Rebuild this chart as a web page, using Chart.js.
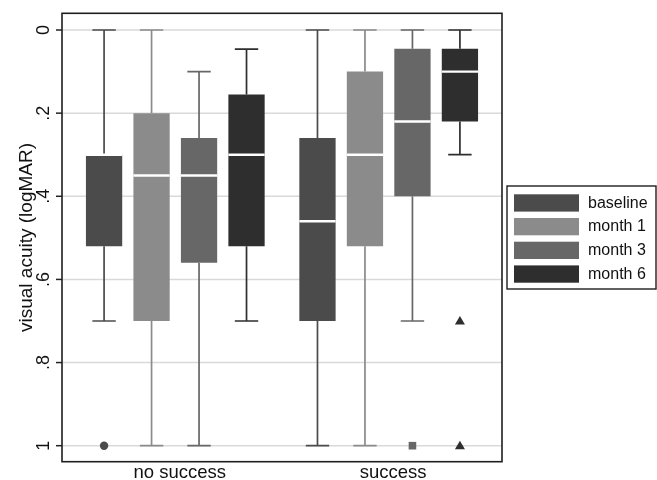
<!DOCTYPE html>
<html><head><meta charset="utf-8">
<script src="https://cdn.jsdelivr.net/npm/chart.js@4/dist/chart.umd.min.js"></script>
<style>html,body{margin:0;padding:0;background:#fff;}</style>
</head><body>
<canvas id="c" width="657" height="480" style="display:block;width:657px;height:480px"></canvas>
<script>
// ---- data ----
const categories = ['no success', 'success'];
const seriesNames = ['baseline', 'month 1', 'month 3', 'month 6'];
// per category: [upper whisker end (best), q1, median, q3, lower whisker end]
const baseline = [[0.00, 0.30, 0.30, 0.52, 0.70], [0.00, 0.26, 0.46, 0.70, 1.00]];
const month1   = [[0.00, 0.20, 0.35, 0.70, 1.00], [0.00, 0.10, 0.30, 0.52, 1.00]];
const month3   = [[0.10, 0.26, 0.35, 0.56, 1.00], [0.00, 0.045, 0.22, 0.40, 0.70]];
const month6   = [[0.046, 0.155, 0.30, 0.52, 0.70], [0.00, 0.045, 0.10, 0.22, 0.30]];
const baselineOutliers = [[1.00], []];
const month1Outliers   = [[], []];
const month3Outliers   = [[], [1.00]];
const month6Outliers   = [[], [0.70, 1.00]];
const yTicks = [0, 0.2, 0.4, 0.6, 0.8, 1];
const yTickLabels = ['0', '.2', '.4', '.6', '.8', '1'];
const yTitle = 'visual acuity (logMAR)';

// ---- styles ----
const seriesStats = [baseline, month1, month3, month6];
const seriesOutliers = [baselineOutliers, month1Outliers, month3Outliers, month6Outliers];
const seriesColors = ['#4b4b4b', '#8b8b8b', '#676767', '#2e2e2e'];
const outlierShapes = ['circle', 'circle', 'square', 'triangle'];
const FONT = "'Liberation Sans', Arial, sans-serif";
const EDGE = 6.6; // gap between plot frame and outer box groups

const datasets = seriesNames.map((name, s) => ({
  label: name,
  data: seriesStats[s].map(st => [st[1], st[3]]),
  backgroundColor: seriesColors[s],
  borderWidth: 0,
  borderSkipped: false,
  barPercentage: 0.764,
  categoryPercentage: 0.89
}));

function drawMarker(ctx, shape, x, y, color) {
  ctx.fillStyle = color;
  ctx.beginPath();
  if (shape === 'circle') {
    ctx.arc(x, y, 4.2, 0, Math.PI * 2);
  } else if (shape === 'square') {
    ctx.rect(x - 3.8, y - 3.8, 7.6, 7.6);
  } else {
    ctx.moveTo(x, y - 5);
    ctx.lineTo(x + 5, y + 3.6);
    ctx.lineTo(x - 5, y + 3.6);
    ctx.closePath();
  }
  ctx.fill();
}

const boxPlugin = {
  id: 'boxplot',
  beforeDatasetsDraw(chart) {
    const ctx = chart.ctx, ys = chart.scales.y, ca = chart.chartArea;
    const fl = ca.left - EDGE, fr = ca.right + EDGE;
    ctx.save();
    // horizontal grid lines and outer tick marks at the y-axis ticks
    ys.ticks.forEach(t => {
      const y = ys.getPixelForValue(t.value);
      ctx.strokeStyle = '#d9d9d9';
      ctx.lineWidth = 1.5;
      ctx.beginPath(); ctx.moveTo(fl, y); ctx.lineTo(fr, y); ctx.stroke();
      ctx.strokeStyle = '#222';
      ctx.beginPath(); ctx.moveTo(fl - 6, y); ctx.lineTo(fl, y); ctx.stroke();
    });
    // whiskers
    chart.data.datasets.forEach((ds, s) => {
      const meta = chart.getDatasetMeta(s);
      meta.data.forEach((bar, i) => {
        const st = seriesStats[s][i];
        const x = bar.x, cap = 11.7;
        ctx.strokeStyle = seriesColors[s];
        ctx.lineWidth = 1.7;
        ctx.beginPath();
        ctx.moveTo(x, ys.getPixelForValue(st[1]));
        ctx.lineTo(x, ys.getPixelForValue(st[0]));
        ctx.moveTo(x - cap, ys.getPixelForValue(st[0]));
        ctx.lineTo(x + cap, ys.getPixelForValue(st[0]));
        ctx.moveTo(x, ys.getPixelForValue(st[3]));
        ctx.lineTo(x, ys.getPixelForValue(st[4]));
        ctx.moveTo(x - cap, ys.getPixelForValue(st[4]));
        ctx.lineTo(x + cap, ys.getPixelForValue(st[4]));
        ctx.stroke();
      });
    });
    ctx.restore();
  },
  afterDatasetsDraw(chart) {
    const ctx = chart.ctx, ys = chart.scales.y;
    ctx.save();
    chart.data.datasets.forEach((ds, s) => {
      const meta = chart.getDatasetMeta(s);
      meta.data.forEach((bar, i) => {
        const st = seriesStats[s][i];
        const y = ys.getPixelForValue(st[2]);
        ctx.strokeStyle = '#ffffff';
        ctx.lineWidth = 2.4;
        ctx.beginPath();
        ctx.moveTo(bar.x - bar.width / 2, y);
        ctx.lineTo(bar.x + bar.width / 2, y);
        ctx.stroke();
        seriesOutliers[s][i].forEach(v => {
          drawMarker(ctx, outlierShapes[s], bar.x, ys.getPixelForValue(v), seriesColors[s]);
        });
      });
    });
    ctx.restore();
  },
  afterDraw(chart) {
    const ctx = chart.ctx, ca = chart.chartArea;
    const fl = ca.left - EDGE, fr = ca.right + EDGE;
    ctx.save();
    // plot frame
    ctx.strokeStyle = '#1e1e1e';
    ctx.lineWidth = 1.6;
    ctx.strokeRect(fl, ca.top, fr - fl, ca.bottom - ca.top);
    // legend
    const lx = fr + 5, lw = 149, lh = 103;
    const ly = (ca.top + ca.bottom) / 2 - lh / 2;
    ctx.lineWidth = 1.4;
    ctx.strokeRect(lx, ly, lw, lh);
    ctx.font = '16px ' + FONT;
    ctx.textBaseline = 'middle';
    ctx.textAlign = 'left';
    seriesNames.forEach((name, s) => {
      const sy = ly + 8.3 + s * 23.7;
      ctx.fillStyle = seriesColors[s];
      ctx.fillRect(lx + 7, sy, 65, 17.3);
      ctx.fillStyle = '#111';
      ctx.fillText(name, lx + 81, sy + 8.9);
    });
    ctx.restore();
  }
};

new Chart(document.getElementById('c'), {
  type: 'bar',
  data: { labels: categories, datasets },
  options: {
    responsive: false,
    animation: false,
    devicePixelRatio: 1,
    events: [],
    layout: { padding: { top: 13.3, right: 155 + EDGE, left: 0, bottom: 0 } },
    plugins: { legend: { display: false }, tooltip: { enabled: false } },
    scales: {
      x: {
        grid: { display: false, drawTicks: false },
        border: { display: false },
        ticks: { color: '#111', font: { family: FONT, size: 18.5 }, padding: 0, labelOffset: 4.4 },
        afterFit(scale) { scale.height = 18.3; scale.paddingLeft = 0; scale.paddingRight = 0; }
      },
      y: {
        reverse: true,
        min: -0.0402,
        max: 1.0385,
        afterBuildTicks(scale) { scale.ticks = yTicks.map(v => ({ value: v })); },
        ticks: {
          minRotation: 90, maxRotation: 90,
          crossAlign: 'center',
          padding: 16.6,
          color: '#111',
          font: { family: FONT, size: 18 },
          callback: (v, i) => yTickLabels[i]
        },
        grid: { display: false, drawTicks: false, tickLength: 6 },
        border: { display: false },
        title: { display: true, text: yTitle, color: '#111', font: { family: FONT, size: 19 }, padding: { top: 15.6, bottom: 0 } },
        afterFit(scale) { scale.width = 62 + EDGE; scale.paddingTop = 0; scale.paddingBottom = 0; }
      }
    }
  },
  plugins: [boxPlugin]
});
</script>
</body></html>
